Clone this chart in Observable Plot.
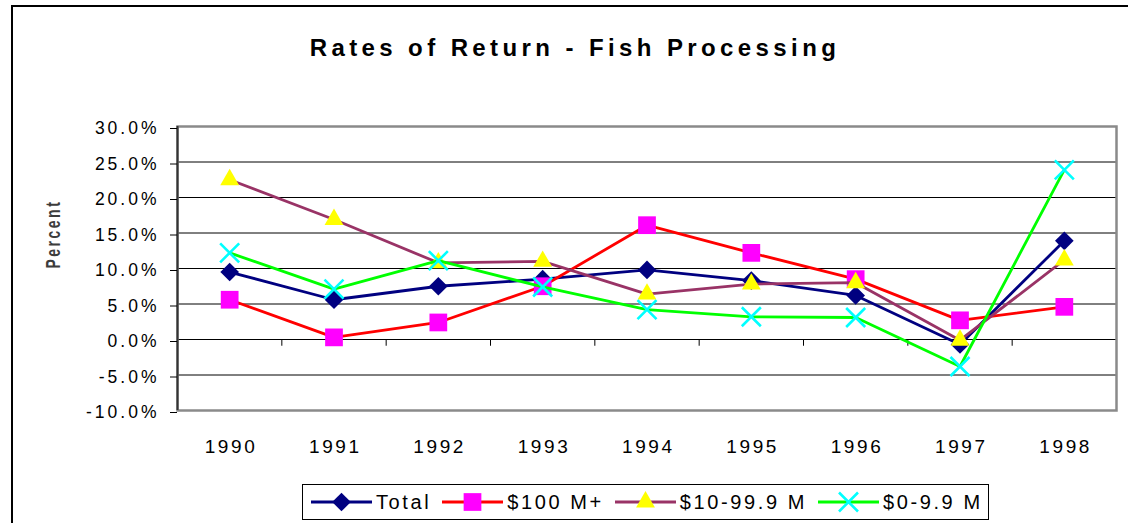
<!DOCTYPE html>
<html>
<head>
<meta charset="utf-8">
<script src="https://cdn.jsdelivr.net/npm/d3@7"></script>
<script src="https://cdn.jsdelivr.net/npm/@observablehq/plot@0.6"></script>
<style>
html, body { margin: 0; padding: 0; background: #fff; }
#wrap { position: relative; width: 1128px; height: 523px; overflow: hidden; font-family: "Liberation Sans", Arial, sans-serif; }
#border { position: absolute; left: 11px; top: 5px; right: -20px; bottom: -20px; border-left: 2px solid #000; border-top: 2px solid #000; }
#title { position: absolute; left: 0; width: 1150px; top: 34px; text-align: center; font-weight: bold; font-size: 24px; letter-spacing: 4.4px; color: #000; }
#chart { position: absolute; left: 0; top: 0; }
#legend { position: absolute; left: 302px; top: 484px; width: 687px; height: 36px; border: 1.5px solid #000; box-sizing: border-box; display: flex; align-items: center; padding-left: 8px; background: #fff; }
.item { display: flex; align-items: center; margin-right: 11px; font-size: 20px; letter-spacing: 2.6px; white-space: nowrap; }
.item svg { margin-right: 4px; display: block; }
#chart g[aria-label="y-axis tick label"] text { letter-spacing: 3px; font-size: 17.5px !important; }
#chart g[aria-label="x-axis tick label"] text { letter-spacing: 2.6px; font-size: 19px !important; }
</style>
</head>
<body>
<div id="wrap">
  <div id="border"></div>
  <div id="chart"></div>
  <div id="title"></div>
  <div id="legend"></div>
</div>
<script>
// ---- data ----
const years = [1990, 1991, 1992, 1993, 1994, 1995, 1996, 1997, 1998];
const seriesNames = ["Total", "$100 M+", "$10-99.9 M", "$0-9.9 M"];
const total      = [9.5, 5.6, 7.5, 8.5, 9.8, 8.3, 6.2, -0.7, 13.9];
const over100    = [5.6, 0.3, 2.4, 7.5, 16.1, 12.2, 8.5, 2.7, 4.6];
const from10to99 = [22.5, 16.9, 10.8, 11.0, 6.4, 7.8, 8.0, -0.1, 11.2];
const from0to9   = [12.2, 7.1, 11.1, 7.4, 4.2, 3.2, 3.1, -3.8, 23.9];
const yTicks = [-10, -5, 0, 5, 10, 15, 20, 25, 30];
const title = "Rates of Return - Fish Processing";
const yLabel = "Percent";

// ---- styles ----
const styles = [
  {line: "#000080", symbol: "diamond2", fill: "#000080", stroke: "none", r: 8.4, sw: 0, legendSym: d3.symbolDiamond2},
  {line: "#FF0000", symbol: "square",   fill: "#FF00FF", stroke: "none", r: 10,  sw: 0, legendSym: d3.symbolSquare},
  {line: "#993366", symbol: "triangle", fill: "#FFFF00", stroke: "none", r: 7,   sw: 0, legendSym: d3.symbolTriangle},
  {line: "#00FF00", symbol: "times",    fill: "none",    stroke: "#00FFFF", r: 8.7, sw: 2.6, legendSym: d3.symbolTimes}
];
const seriesValues = [total, over100, from10to99, from0to9];

const table = [];
seriesNames.forEach((name, i) => {
  years.forEach((yr, j) => table.push({series: name, idx: i, year: yr, value: seriesValues[i][j]}));
});

const boundaries = years.slice(0, -1).map(y => y + 0.5);

const seriesMarks = [];
seriesNames.forEach((name, i) => {
  const s = styles[i];
  const data = table.filter(d => d.idx === i);
  seriesMarks.push(Plot.line(data, {x: "year", y: "value", stroke: s.line, strokeWidth: 2.8}));
  seriesMarks.push(Plot.dot(data, {x: "year", y: "value", symbol: s.symbol, r: s.r,
    fill: s.fill, stroke: s.stroke, strokeWidth: s.sw}));
});

const chart = Plot.plot({
  width: 1128,
  height: 470,
  marginLeft: 177,
  marginRight: 12,
  marginTop: 126,
  marginBottom: 60,
  style: {fontFamily: "'Liberation Sans', Arial, sans-serif", fontSize: "17px", background: "transparent", color: "#000"},
  x: {domain: [years[0] - 0.5, years[years.length - 1] + 0.5]},
  y: {domain: [yTicks[0], yTicks[yTicks.length - 1]]},
  marks: [
    Plot.ruleY(yTicks, {stroke: "#000", strokeWidth: 1}),
    Plot.ruleX(boundaries, {y1: 0, y2: -0.95, stroke: "#000", strokeWidth: 1}),
    Plot.frame({stroke: "#8a8a8a", strokeWidth: 2.5}),
    Plot.ruleX([years[0] - 0.5], {stroke: "#333", strokeWidth: 2}),
    Plot.axisY(yTicks, {anchor: "left", tickSize: 7, tickPadding: 11, dy: 2, label: null,
      tickFormat: d => d.toFixed(1) + "%", fontSize: 17.5}),
    Plot.axisX(years, {anchor: "bottom", tickSize: 0, tickPadding: 29, label: null, dx: 1.3,
      tickFormat: d => String(d), fontSize: 19}),
    Plot.text([yLabel], {frameAnchor: "left", dx: -124, rotate: -90, fontWeight: "bold",
      fontSize: 14, fill: "#3c3c3c"}),
    ...seriesMarks
  ]
});
document.getElementById("chart").appendChild(chart);

// stretch the rotated axis title like the original rendering
d3.select(chart).selectAll("text").filter(function () { return this.textContent === yLabel; })
  .each(function () {
    const t = d3.select(this);
    t.style("letter-spacing", "2.5px");
    const tr = t.attr("transform");
    if (tr) t.attr("transform", tr + " scale(1,1.5)");
  });

document.getElementById("title").textContent = title;

// ---- legend ----
const legend = d3.select("#legend");
seriesNames.forEach((name, i) => {
  const s = styles[i];
  const item = legend.append("div").attr("class", "item");
  const svg = item.append("svg").attr("width", 61).attr("height", 22);
  svg.append("line").attr("x1", 0).attr("x2", 61).attr("y1", 11).attr("y2", 11)
    .attr("stroke", s.line).attr("stroke-width", 3);
  svg.append("path")
    .attr("d", d3.symbol().type(s.legendSym).size(Math.PI * s.r * s.r)())
    .attr("transform", "translate(30.5,11)")
    .attr("fill", s.fill).attr("stroke", s.stroke === "none" ? null : s.stroke)
    .attr("stroke-width", s.sw || null);
  item.append("span").text(name);
});
</script>
</body>
</html>
